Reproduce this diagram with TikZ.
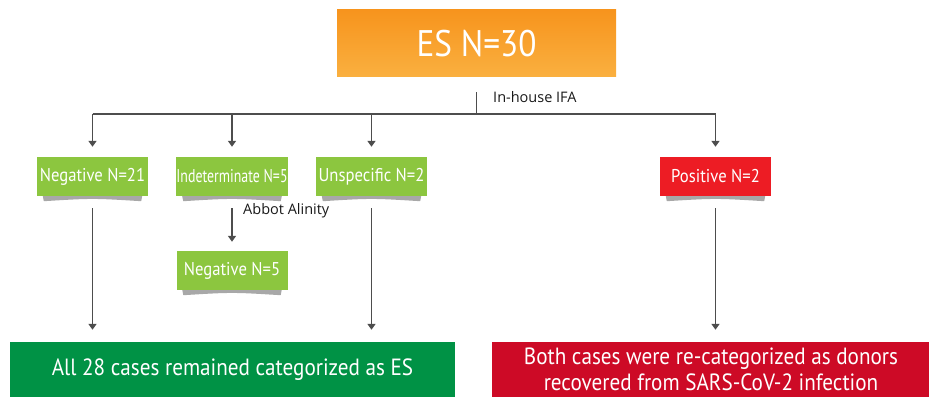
\documentclass[tikz,border=0pt]{standalone}
\usepackage{fontspec}
\setmainfont{PT Sans}
\newfontfamily\boxfont[FakeStretch=0.9]{PT Sans}
\newfontfamily\condfont[FakeStretch=0.75]{PT Sans}
\newfontfamily\labfont{Open Sans}
\usetikzlibrary{arrows.meta}
\definecolor{esorangeA}{HTML}{F7941D}
\definecolor{esorangeB}{HTML}{FAB040}
\definecolor{midgreen}{HTML}{8CC63F}
\definecolor{darkgreen}{HTML}{009245}
\definecolor{posred}{HTML}{ED1C24}
\definecolor{darkred}{HTML}{CD0A26}
\definecolor{linegray}{HTML}{4D4D4D}
\definecolor{shadgray}{HTML}{A8A8A8}
\tikzset{
  midbox/.style={minimum width=111pt, minimum height=39pt, inner sep=0pt, text=white,
    font=\boxfont\fontsize{18.5}{20}\selectfont},
  bigbox/.style={minimum height=55pt, inner sep=0pt, text=white, align=center,
    font=\boxfont\fontsize{23.5}{26}\selectfont},
  conn/.style={draw=linegray, line width=1.8pt},
  arr/.style={conn, -{Triangle[length=6pt,width=8pt]}},
  lab/.style={font=\labfont\fontsize{14.5}{16}\selectfont, text=black!90, inner sep=0pt, anchor=west}
}
\begin{document}
\begin{tikzpicture}[x=1pt,y=1pt]
\useasboundingbox (0,0) rectangle (929,397);
% top box
\node[minimum width=279pt, minimum height=67pt, inner sep=0pt, top color=esorangeA, bottom color=esorangeB,
  text=white, font=\boxfont\fontsize{37}{40}\selectfont] (es) at (476.5,353.5) {ES N=30};
% second row
\node[midbox, fill=midgreen] (neg21) at (92.5,220.5) {Negative N=21};
\node[midbox, fill=midgreen, font=\condfont\fontsize{18.5}{20}\selectfont] (indet) at (232,220.5) {Indeterminate N=5};
\node[midbox, fill=midgreen] (unspec) at (371.5,220.5) {Unspecific N=2};
\node[midbox, fill=posred] (pos) at (715.5,220.5) {Positive N=2};
\node[midbox, fill=midgreen] (neg5) at (232,126.5) {Negative N=5};
% shadows
\foreach \n in {neg21,indet,unspec,pos,neg5}{
  \fill[shadgray] ([xshift=6pt]\n.south west) -- ([xshift=-6pt]\n.south east)
    -- ([xshift=-7pt,yshift=-5pt]\n.south east) .. controls ([yshift=-2pt]\n.south) .. ([xshift=7pt,yshift=-5pt]\n.south west) -- cycle;
}
% bottom boxes
\node[bigbox, fill=darkgreen, minimum width=445pt] (allcases) at (232.5,27.5) {All 28 cases remained categorized as ES};
\node[bigbox, fill=darkred, minimum width=438pt] (both) at (711,27.5) {Both cases were re-categorized as donors\\recovered from SARS-CoV-2 infection};
% connectors
\coordinate (hub) at (476.5,283);
\draw[conn, shorten <=15pt] (es) -- (hub);
\draw[conn] (hub -| neg21) -- (hub -| pos);
\foreach \n in {neg21,indet,unspec,pos}{
  \draw[arr, shorten >=10pt] (hub -| \n) -- (\n);
}
\node[lab] (ifa) at (493,300) {In-house IFA};
\draw[arr, shorten <=12pt, shorten >=9pt] (indet) -- (neg5);
\node[lab] (abbot) at (243,186.5) {Abbot Alinity};
\draw[arr, shorten <=12pt, shorten >=12pt] (neg21) -- (neg21 |- allcases.north);
\draw[arr, shorten <=12pt, shorten >=12pt] (unspec) -- (unspec |- allcases.north);
\draw[arr, shorten <=12pt, shorten >=12pt] (pos) -- (pos |- both.north);
\end{tikzpicture}
\end{document}
